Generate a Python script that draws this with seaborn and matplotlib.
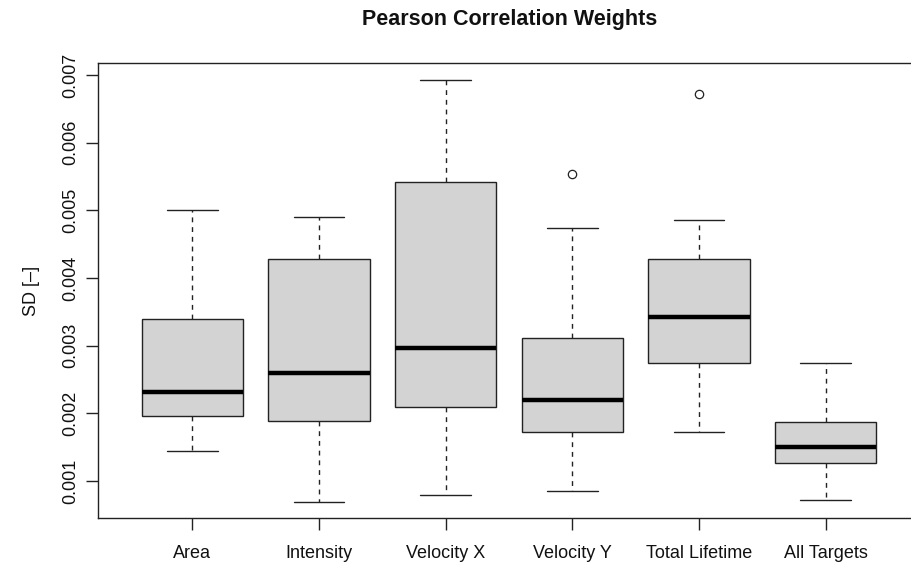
import numpy as np
import pandas as pd
import matplotlib
matplotlib.use("Agg")
import matplotlib.pyplot as plt
import seaborn as sns

# Five-number summaries (whisker ends, hinges, median) of the SD of the weights
categories = ["Area", "Intensity", "Velocity X", "Velocity Y", "Total Lifetime", "All Targets"]
lower_whisker = [0.001438, 0.000686, 0.000798, 0.000853, 0.001727, 0.000724]
lower_hinge = [0.001959, 0.001880, 0.002087, 0.001718, 0.002736, 0.001265]
median = [0.002317, 0.002597, 0.002966, 0.002200, 0.003420, 0.001506]
upper_hinge = [0.003390, 0.004274, 0.005420, 0.003109, 0.004274, 0.001875]
upper_whisker = [0.005012, 0.004900, 0.006930, 0.004742, 0.004850, 0.002745]
outliers = {"Velocity Y": [0.005532], "Total Lifetime": [0.006720]}

y_ticks = [0.001, 0.002, 0.003, 0.004, 0.005, 0.006, 0.007]
y_ticklabels = ["0.001", "0.002", "0.003", "0.004", "0.005", "0.006", "0.007"]

# Observations per group: nine values whose quartiles fall exactly on the hinges
rows = []
for i, cat in enumerate(categories):
    vals = [lower_whisker[i], lower_hinge[i], lower_hinge[i], median[i], median[i],
            upper_hinge[i], upper_hinge[i], upper_whisker[i]]
    extra = outliers.get(cat, [])
    vals += extra if extra else [upper_whisker[i]]
    rows += [(cat, v) for v in vals]
df = pd.DataFrame(rows, columns=["target", "sd"])

sns.set_style("white")
plt.rcParams["font.family"] = ["Liberation Sans", "DejaVu Sans"]

fig = plt.figure(figsize=(9.11, 5.66), dpi=100)
W, H = 911, 566
left, right, top, bottom = 98, 920, 63, 518
ax = fig.add_axes([left / W, 1 - bottom / H, (right - left) / W, (bottom - top) / H])

sns.boxplot(
    data=df, x="target", y="sd", order=categories, ax=ax,
    color="#D3D3D3", saturation=1, linecolor="black", linewidth=1.0, width=0.8,
    whis=1.5,
    boxprops=dict(edgecolor="#222222"),
    whiskerprops=dict(linestyle=(0, (3.5, 3.5)), color="#222222"),
    capprops=dict(color="#222222"),
    medianprops=dict(linewidth=3.2, color="black"),
    flierprops=dict(marker="o", markerfacecolor="none", markeredgecolor="#222222",
                    markersize=6, markeredgewidth=0.9),
)

ax.set_xlim(-0.745, 5.745)
ax.set_ylim(0.000452, 0.007178)

ax.set_yticks(y_ticks)
ax.set_yticklabels(y_ticklabels, rotation=90, va="center")
ax.tick_params(axis="both", direction="out", length=8.3, width=1.0, color="#222222",
               labelsize=13, labelcolor="#111111")
ax.tick_params(axis="y", pad=5, left=True)
ax.tick_params(axis="x", pad=11, bottom=True)

ax.set_xlabel("")
ax.set_ylabel("SD [–]", fontsize=13, color="#111111", labelpad=16)

for s in ax.spines.values():
    s.set_visible(True)
    s.set_color("#222222")
    s.set_linewidth(1.0)

fig.text(510 / W, 1 - 20 / H, "Pearson Correlation Weights", ha="center", va="center",
         fontsize=15.5, fontweight="bold", color="#111111")

fig.savefig("out.png", dpi=100)
